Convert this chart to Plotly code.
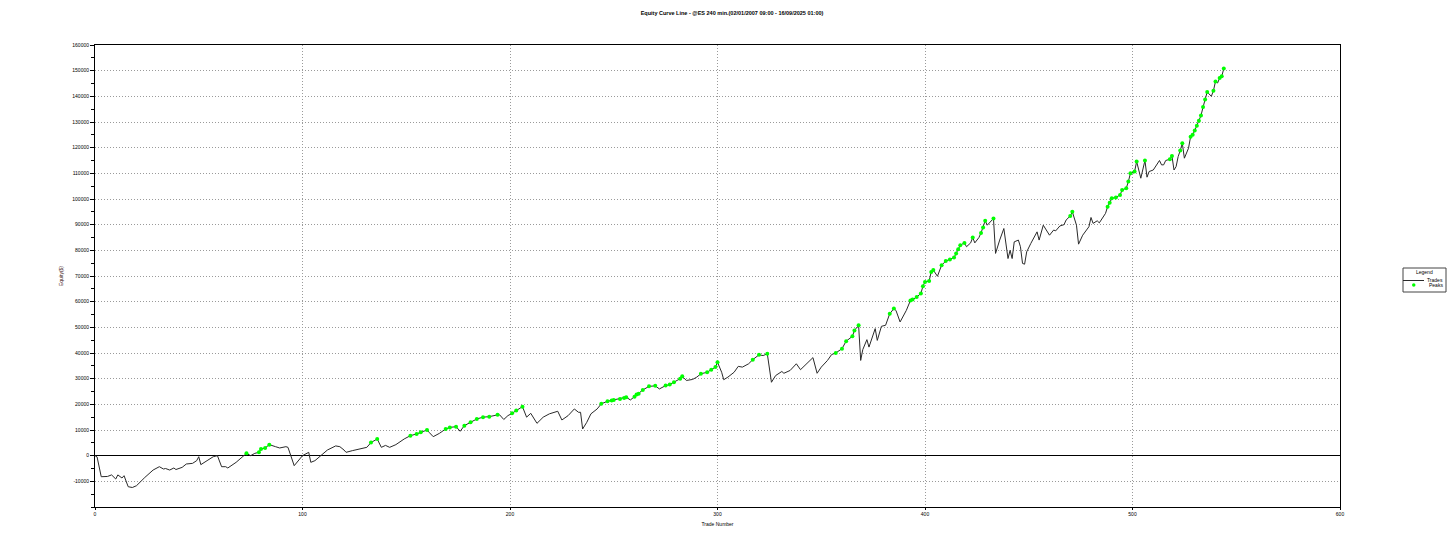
import numpy as np
import plotly.graph_objects as go

# ---- data ----
trade_no = [
    0, 1, 3, 6, 8, 10, 11, 13, 14, 16, 18, 20, 24, 28, 31, 33, 34, 36, 38, 39,
    42, 44, 47, 49, 50, 51, 54, 57, 59, 60, 61, 63, 64, 68, 71, 73, 75, 77, 79, 80,
    82, 84, 87, 89, 92, 93, 96, 97, 100, 103, 104, 106, 109, 112, 116, 118, 120, 121, 124, 128,
    131, 133, 136, 138, 140, 142, 145, 149, 152, 155, 157, 160, 161, 163, 166, 169, 171, 174, 176, 178,
    181, 184, 187, 190, 194, 195, 197, 199, 201, 203, 206, 208, 210, 213, 216, 219, 223, 225, 228, 231,
    233, 234, 235, 237, 239, 242, 244, 247, 249, 250, 253, 255, 256, 258, 260, 261, 262, 264, 267, 270,
    272, 275, 277, 279, 282, 283, 285, 288, 290, 292, 295, 297, 299, 300, 302, 303, 305, 308, 310, 312,
    315, 317, 320, 322, 324, 326, 328, 331, 332, 335, 338, 340, 343, 346, 348, 350, 353, 355, 357, 360,
    362, 365, 366, 368, 369, 370, 372, 373, 376, 377, 379, 381, 383, 385, 386, 388, 391, 393, 394, 396,
    398, 399, 400, 402, 403, 404, 406, 407, 408, 410, 412, 414, 415, 416, 417, 419, 420, 422, 423, 424,
    426, 427, 428, 429, 430, 433, 434, 435, 436, 438, 439, 440, 441, 442, 443, 445, 446, 447, 448, 449,
    451, 454, 455, 457, 460, 462, 463, 465, 467, 468, 470, 471, 473, 474, 476, 479, 480, 481, 483, 484,
    487, 488, 489, 490, 492, 494, 495, 497, 498, 499, 501, 502, 504, 506, 507, 508, 510, 513, 514, 515,
    516, 518, 519, 520, 521, 522, 523, 524, 525, 527, 528, 529, 530, 531, 532, 533, 534, 535, 536, 538,
    539, 540, 541, 542, 543, 544,
]

equity = [
    0, -500, -8200, -8100, -7500, -9100, -7500, -8700, -7800, -12100, -12400, -11700, -8500, -5600, -4300, -5200, -5000, -5600, -4800, -5400,
    -4550, -3250, -3000, -1950, -400, -3500, -1950, -400, 0, -1950, -4300, -4300, -4800, -2600, -400, 900, 0, 900, 1300, 2600,
    3000, 4300, 3500, 3000, 3500, 3250, -3900, -3000, 0, 1300, -2600, -1950, 0, 2200, 3800, 3500, 2200, 1300, 1950, 2600,
    3250, 5100, 6500, 3250, 4000, 3250, 4300, 6500, 7800, 8450, 9100, 10000, 9100, 7400, 8700, 10400, 11000, 11300, 9500, 11700,
    13000, 14300, 15000, 15200, 15900, 15900, 14100, 15600, 16500, 17600, 19100, 15000, 16500, 12600, 15000, 16300, 17300, 13900, 15600, 18200,
    16900, 16900, 10400, 13000, 16300, 18200, 20200, 21200, 21500, 21700, 22100, 22500, 22800, 21700, 23000, 23800, 24100, 25600, 27000, 27200,
    26000, 27300, 27700, 28600, 30000, 30900, 29300, 29700, 30600, 31900, 32500, 33500, 34500, 36400, 32500, 29600, 30600, 32500, 34800, 34500,
    35800, 37400, 39300, 39000, 39700, 28600, 31200, 32800, 32100, 33200, 35800, 33500, 35800, 38200, 32100, 34500, 37100, 39400, 40000, 41700,
    44600, 46500, 48800, 50800, 37100, 41300, 45200, 42300, 49500, 44900, 50400, 50800, 55300, 57300, 56600, 52100, 56600, 60500, 60800, 61800,
    63200, 66000, 67700, 68100, 71600, 72300, 69900, 72300, 74200, 75800, 76400, 77200, 78800, 80400, 82000, 82900, 81400, 82900, 85000, 82900,
    85000, 86800, 88900, 91500, 89800, 92400, 78800, 82000, 84000, 88500, 82000, 76800, 80000, 76800, 83300, 84000, 81400, 74900, 74600, 79400,
    82700, 87200, 84000, 89800, 85900, 87900, 87600, 89500, 90000, 91800, 93400, 95000, 89800, 82400, 85900, 89200, 92800, 90500, 91500, 90700,
    94400, 97000, 98500, 100300, 100600, 101600, 103500, 104200, 106800, 110000, 110700, 114600, 108100, 115000, 108500, 110700, 111300, 115000, 113300, 113300,
    115000, 115500, 116800, 111300, 112600, 116500, 118900, 121700, 115900, 119800, 124300, 125000, 126700, 128500, 130500, 132500, 135800, 138800, 141700, 140000,
    142200, 145800, 145200, 147100, 147800, 150800,
]

y_tick_values = [-10000, 0, 10000, 20000, 30000, 40000, 50000, 60000, 70000, 80000,
                 90000, 100000, 110000, 120000, 130000, 140000, 150000, 160000]
y_tick_labels = ["-10000", "0", "10000", "20000", "30000", "40000", "50000", "60000", "70000", "80000",
                 "90000", "100000", "110000", "120000", "130000", "140000", "150000", "160000"]
x_tick_values = [0, 100, 200, 300, 400, 500, 600]
x_tick_labels = ["0", "100", "200", "300", "400", "500", "600"]

title_text = "Equity Curve Line - @ES 240 min.(02/01/2007 09:00 - 16/09/2025 01:00)"
series_names = ["Trades", "Peaks"]
legend_title = "Legend"

# peaks: trades that set a new equity high
eq = np.array(equity, dtype=float)
prev_max = np.concatenate([[eq[0]], np.maximum.accumulate(eq)[:-1]])
mask = eq > prev_max
peak_x = np.array(trade_no)[mask]
peak_y = eq[mask]

FONT = "Liberation Sans"
LINE_COLOR = "#2a2a2a"
PEAK_COLOR = "#00ff00"

# page body has an 8px margin; size the figure so the page does not scroll
W, H = 1448, 530
L, R, T, B = 87, 116, 37, 31
PW, PH = W - L - R, H - T - B


def px(x):  # figure pixel -> paper x
    return (x - L) / PW


def py(y):  # figure pixel -> paper y
    return (H - B - y) / PH


fig = go.Figure()
fig.add_trace(go.Scatter(
    x=trade_no, y=equity, mode="lines", name=series_names[0],
    line=dict(color=LINE_COLOR, width=1), showlegend=False,
))
fig.add_trace(go.Scatter(
    x=peak_x, y=peak_y, mode="markers", name=series_names[1],
    marker=dict(color=PEAK_COLOR, size=4, line=dict(width=0)), showlegend=False,
))

fig.update_layout(
    width=W, height=H,
    margin=dict(l=L, r=R, t=T, b=B, autoexpand=False),
    paper_bgcolor="white", plot_bgcolor="white",
    font=dict(family=FONT, size=5, color="#000000"),
    title=dict(text="<b>" + title_text + "</b>", x=0.5, xanchor="center",
               y=1 - 5 / H, yanchor="middle", font=dict(family=FONT, size=5.5, color="#000")),
    showlegend=False,
    xaxis=dict(
        range=[0, 600], tickvals=x_tick_values, ticktext=x_tick_labels,
        showgrid=True, gridcolor="#9a9a9a", griddash="1px,2px", gridwidth=1,
        showline=True, linecolor="#000", linewidth=1, mirror=True,
        ticks="outside", ticklen=2, tickcolor="#000",
        zeroline=False, tickfont=dict(size=5),
        title=dict(text="Trade Number", font=dict(size=5), standoff=6),
    ),
    yaxis=dict(
        range=[-20000, 160000], tickvals=y_tick_values, ticktext=y_tick_labels,
        showgrid=True, gridcolor="#9a9a9a", griddash="1px,2px", gridwidth=1,
        showline=True, linecolor="#000", linewidth=1, mirror=True,
        ticks="outside", ticklen=4, tickcolor="#000",
        minor=dict(dtick=5000, tick0=0, ticks="outside", ticklen=3, tickcolor="#000", showgrid=False),
        zeroline=True, zerolinecolor="#000", zerolinewidth=1,
        tickfont=dict(size=5),
        title=dict(text="Equity($)", font=dict(size=5, color="#3a1010"), standoff=8),
    ),
)

# ---- hand-drawn legend box (kept inside the visible page width) ----
bx0, bx1, by0, by1 = 1395, 1438, 260, 284
fig.add_shape(type="rect", xref="paper", yref="paper",
              x0=px(bx0), x1=px(bx1), y0=py(by1), y1=py(by0),
              line=dict(color="#444", width=1), fillcolor="white")
fig.add_annotation(xref="paper", yref="paper", x=px((bx0 + bx1) / 2), y=py(264),
                   text=legend_title, showarrow=False, xanchor="center", yanchor="middle",
                   font=dict(size=5, family=FONT))
fig.add_shape(type="line", xref="paper", yref="paper",
              x0=px(bx0), x1=px(bx0 + 21), y0=py(272.5), y1=py(272.5),
              line=dict(color=LINE_COLOR, width=1))
fig.add_annotation(xref="paper", yref="paper", x=px(bx1 - 1), y=py(271.5),
                   text=series_names[0], showarrow=False, xanchor="right", yanchor="middle",
                   font=dict(size=5, family=FONT))
fig.add_shape(type="circle", xref="paper", yref="paper",
              x0=px(bx0 + 9), x1=px(bx0 + 12.5), y0=py(278.8), y1=py(275.3),
              line=dict(width=0), fillcolor=PEAK_COLOR)
fig.add_annotation(xref="paper", yref="paper", x=px(bx1 - 1), y=py(276.5),
                   text=series_names[1], showarrow=False, xanchor="right", yanchor="middle",
                   font=dict(size=5, family=FONT))

fig.write_html("out.html")
